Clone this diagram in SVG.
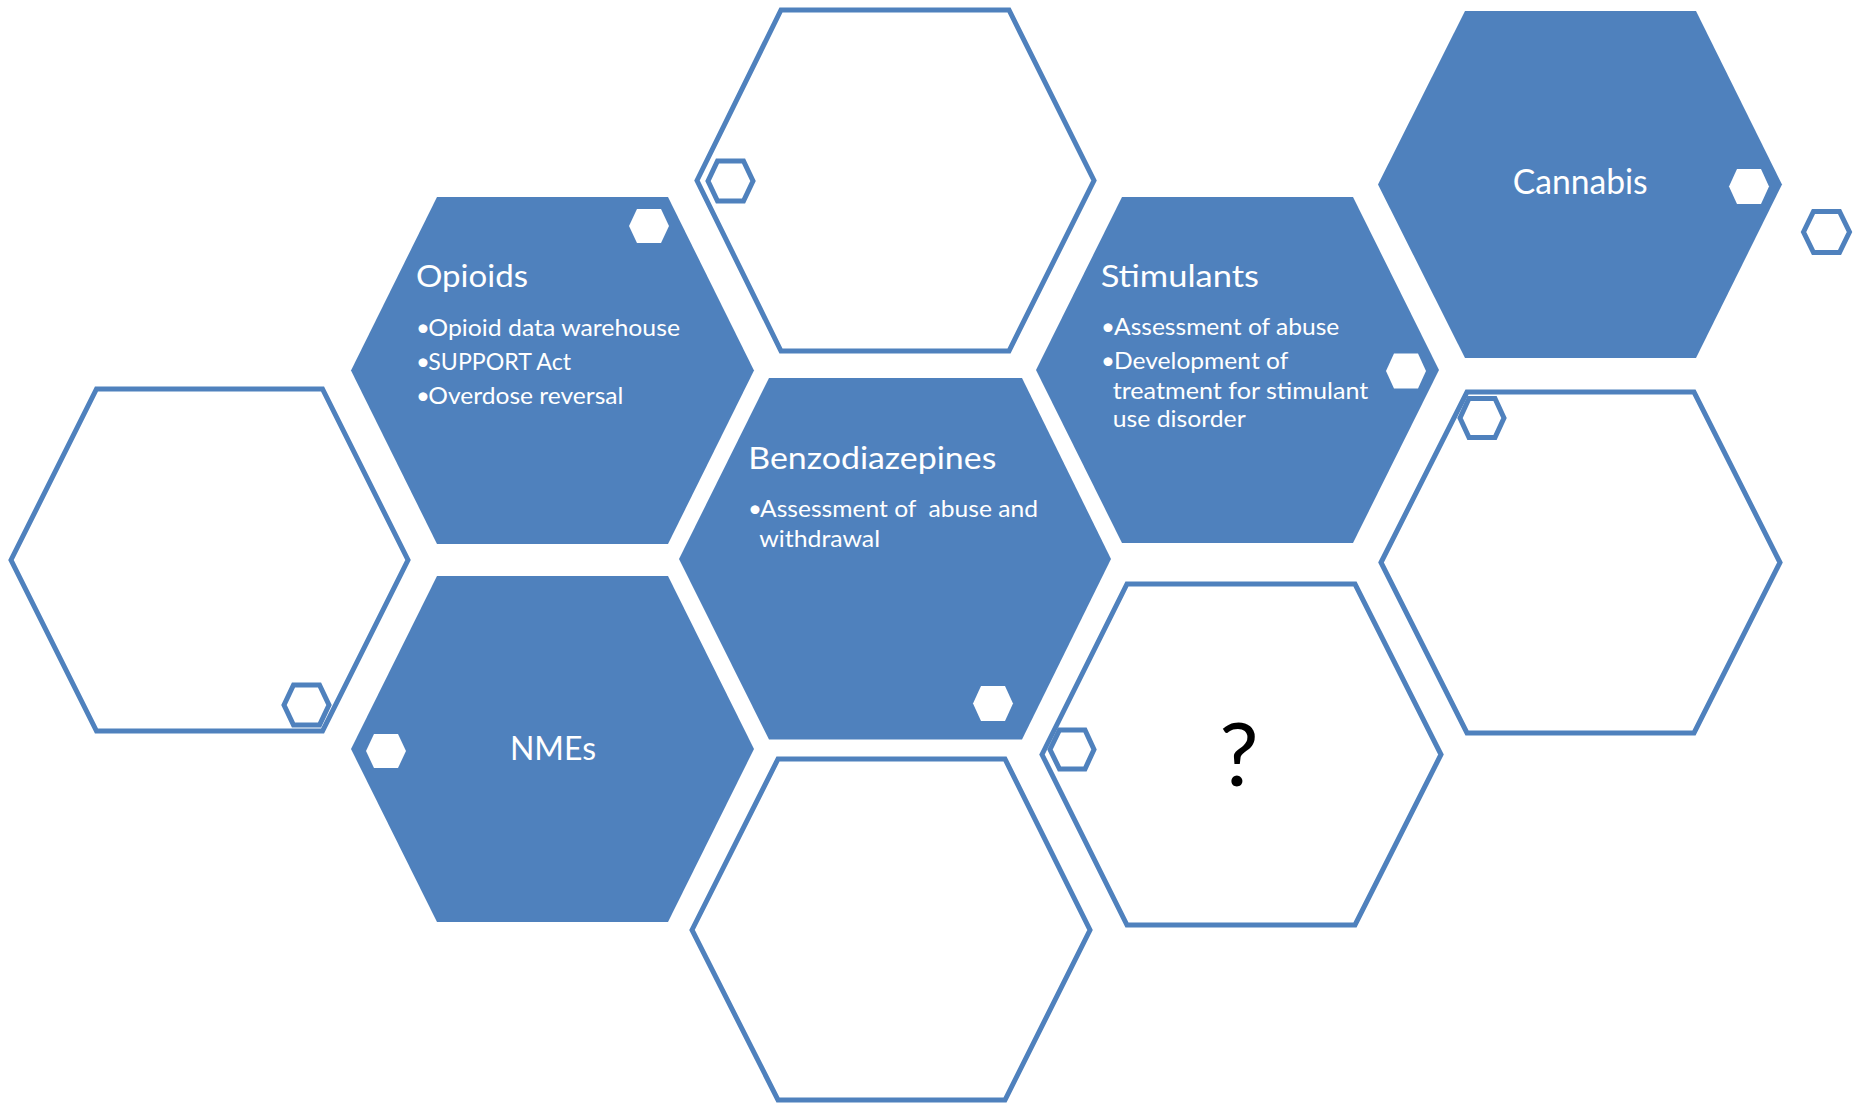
<svg xmlns="http://www.w3.org/2000/svg" width="1860" height="1103" viewBox="0 0 1860 1103">
<style>
.fill{fill:#4F81BD;stroke:none}
.out{fill:none;stroke:#4F81BD;stroke-width:5;stroke-linejoin:miter}
.dot{fill:#FFFFFF;stroke:none}
.t{font-family:Lato,"Open Sans","Liberation Sans",sans-serif;fill:#FFFFFF}
.h{font-size:31px}
.b{font-size:24px}
.q{font-family:Lato,"Open Sans","Liberation Sans",sans-serif;fill:#000000;font-size:88px}
</style>
<rect width="1860" height="1103" fill="#FFFFFF"/>

<g id="hex-top-middle">
<polygon class="out" points="697,180.5 781,10 1009,10 1094,180.5 1009,351 781,351"/>
<polygon class="out" points="708,181 717.5,161 743.5,161 753,181 743.5,201 717.5,201"/>
</g>

<g id="hex-left">
<polygon class="out" points="11,560 96.5,389 322.5,389 408,560 322.5,731 96.5,731"/>
<polygon class="out" points="284,705 293.5,685 319.5,685 329,705 319.5,725 293.5,725"/>
</g>

<g id="hex-question">
<polygon class="out" points="1042,754.5 1127,584 1355,584 1441,754.5 1355,925 1127,925"/>
<polygon class="out" points="1050,749.5 1059.5,730 1085,730 1094,749.5 1085,769 1059.5,769"/>
<text class="q" x="1239" y="786" text-anchor="middle">?</text>
</g>

<g id="hex-bottom-middle">
<polygon class="out" points="692,930 778,759 1005,759 1090,930 1005,1100 778,1100"/>
</g>

<g id="hex-right">
<polygon class="out" points="1381,562.5 1467,392 1694,392 1780,562.5 1694,733 1467,733"/>
<polygon class="out" points="1460,418 1469,398.5 1495,398.5 1504,418 1495,437.5 1469,437.5"/>
</g>

<g id="node-opioids">
<polygon class="fill" points="351,370.5 437,197 668,197 754,370.5 668,544 437,544"/>
<polygon class="dot" points="629,226 637,209 661,209 669,226 661,243 637,243"/>
<text class="t h" x="416" y="287" textLength="112" lengthAdjust="spacingAndGlyphs">Opioids</text>
<text class="t b" x="416" y="336">•</text>
<text class="t b" x="428.3" y="336" textLength="251.7" lengthAdjust="spacingAndGlyphs">Opioid data warehouse</text>
<text class="t b" x="416" y="370">•</text>
<text class="t b" x="428.3" y="370" textLength="142.7" lengthAdjust="spacingAndGlyphs">SUPPORT Act</text>
<text class="t b" x="416" y="404">•</text>
<text class="t b" x="428.3" y="404" textLength="195" lengthAdjust="spacingAndGlyphs">Overdose reversal</text>
</g>

<g id="node-benzodiazepines">
<polygon class="fill" points="679,559 769,378 1022,378 1111,559 1022,739.5 769,739.5"/>
<polygon class="dot" points="973,703.5 981,686 1005,686 1013,703.5 1005,721 981,721"/>
<text class="t h" x="748.3" y="469" textLength="248" lengthAdjust="spacingAndGlyphs">Benzodiazepines</text>
<text class="t b" x="748" y="517">•</text>
<text class="t b" x="760" y="517" textLength="278" lengthAdjust="spacingAndGlyphs" xml:space="preserve" style="white-space:pre">Assessment of  abuse and</text>
<text class="t b" x="759.3" y="547" textLength="120.7" lengthAdjust="spacingAndGlyphs">withdrawal</text>
</g>

<g id="node-stimulants">
<polygon class="fill" points="1036,370 1122,197 1353,197 1439,370 1353,543 1122,543"/>
<polygon class="dot" points="1386,371 1394,353.5 1418,353.5 1426,371 1418,388.5 1394,388.5"/>
<text class="t h" x="1100.7" y="287" textLength="158.3" lengthAdjust="spacingAndGlyphs">Stimulants</text>
<text class="t b" x="1101" y="335">•</text>
<text class="t b" x="1114" y="335" textLength="225.3" lengthAdjust="spacingAndGlyphs">Assessment of abuse</text>
<text class="t b" x="1101" y="369">•</text>
<text class="t b" x="1114" y="369" textLength="174.3" lengthAdjust="spacingAndGlyphs">Development of</text>
<text class="t b" x="1112.7" y="398.5" textLength="255.7" lengthAdjust="spacingAndGlyphs">treatment for stimulant</text>
<text class="t b" x="1112.7" y="427" textLength="133" lengthAdjust="spacingAndGlyphs">use disorder</text>
</g>

<g id="node-cannabis">
<polygon class="fill" points="1378,184.5 1465,11 1696,11 1782,184.5 1696,358 1465,358"/>
<polygon class="dot" points="1729,186.5 1737,169 1761,169 1769,186.5 1761,204 1737,204"/>
<text class="t" x="1512.7" y="194.3" font-size="35" textLength="135" lengthAdjust="spacingAndGlyphs">Cannabis</text>
<polygon class="out" points="1803.5,232 1813.5,211.5 1839.5,211.5 1849.5,232 1839.5,252.5 1813.5,252.5"/>
</g>

<g id="node-nmes">
<polygon class="fill" points="351,749 437,576 668,576 754,749 668,922 437,922"/>
<polygon class="dot" points="366,751 374,734 398,734 406,751 398,768 374,768"/>
<text class="t" x="510" y="760" font-size="32.5" textLength="86" lengthAdjust="spacingAndGlyphs">NMEs</text>
</g>

<g id="connectors"></g>
</svg>
